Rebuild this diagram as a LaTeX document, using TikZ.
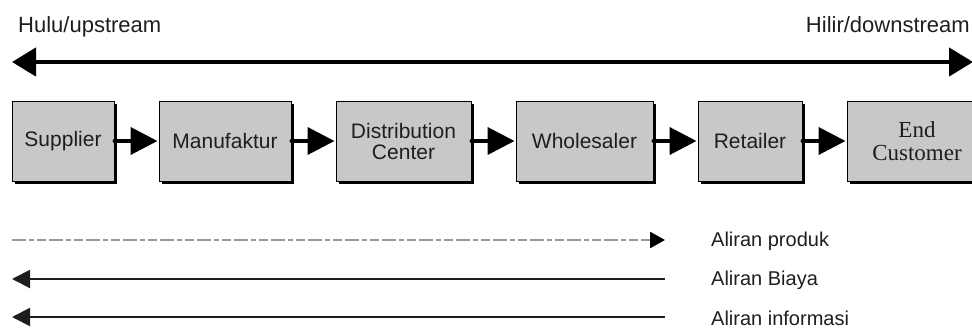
\documentclass[tikz,border=0pt]{standalone}
\usepackage{fontspec}
\setmainfont{Liberation Sans}
\newfontfamily\custfont{Liberation Serif}
\usetikzlibrary{arrows.meta,positioning,shadows}

\definecolor{boxgray}{RGB}{200,200,200}
\definecolor{inkgray}{RGB}{30,30,30}

\begin{document}
\begin{tikzpicture}[x=1pt,y=-1pt,>={Triangle[length=27pt,width=27pt]},
        shorten >=1pt,node distance=44pt,text=inkgray,
        font=\fontsize{21}{21}\selectfont,
        stage/.style={draw=black,line width=1pt,fill=boxgray,
          minimum height=80pt,inner sep=0pt,align=center,
          drop shadow={shadow xshift=3pt,shadow yshift=-3pt,
            fill=black,opacity=1}},
        flow/.style={draw,->,line width=4pt,line cap=round},
        legend/.style={anchor=west,inner sep=0pt,font=\fontsize{20}{20}\selectfont}]
  \useasboundingbox (0,0) rectangle (972,329);

  % upstream / downstream
  \node[anchor=base west,inner sep=0pt,font=\fontsize{22}{22}\selectfont] (hulu) at (18,33) {Hulu/upstream};
  \node[anchor=base east,inner sep=0pt,font=\fontsize{22}{22}\selectfont] (hilir) at (970,33) {Hilir/downstream};
  \coordinate (up) at (12,62);
  \coordinate (down) at (973,62);
  \draw[{Triangle[length=24pt,width=28pt]}-{Triangle[length=24pt,width=28pt]},
        line width=4.5pt,shorten >=0pt] (up) -- (down);

  % the chain
  \node[stage,minimum width=102pt] (sup) at (63,141) {Supplier};
  \node[stage,minimum width=132pt] (man) [right=of sup] {Manufaktur};
  \node[stage,minimum width=135pt] (dc) [right=of man] {Distribution\\Center};
  \node[stage,minimum width=137pt] (whole) [right=of dc] {Wholesaler};
  \node[stage,minimum width=104pt] (ret) [right=of whole] {Retailer};
  \node[stage,minimum width=140pt,font=\custfont\fontsize{23}{23}\selectfont]
        (cust) [right=of ret] {End\\Customer};

  \path (sup) edge[flow] (man)
        (man) edge[flow] (dc)
        (dc) edge[flow] (whole)
        (whole) edge[flow] (ret)
        (ret) edge[flow] (cust);

  % legend
  \node[legend] (prod) at (711,241) {Aliran produk};
  \node[legend] (biaya) at (711,280) {Aliran Biaya};
  \node[legend] (info) at (711,318) {Aliran informasi};

  \coordinate (p0) at (12,240);
  \coordinate (p1) at (665,240);
  \coordinate (b0) at (12,279);
  \coordinate (b1) at (665,279);
  \coordinate (i0) at (12,317);
  \coordinate (i1) at (665,317);

  \draw[gray!80,line width=2.5pt,shorten >=0pt,
        dash pattern=on 14pt off 3pt on 5pt off 3pt on 9pt off 3pt,
        -{Triangle[length=15pt,width=16pt,color=black]}] (p0) -- (p1);
  \draw[inkgray,line width=2pt,shorten >=0pt,
        {Triangle[length=18pt,width=18pt]}-] (b0) -- (b1);
  \draw[inkgray,line width=2pt,shorten >=0pt,
        {Triangle[length=18pt,width=18pt]}-] (i0) -- (i1);
\end{tikzpicture}
\end{document}
